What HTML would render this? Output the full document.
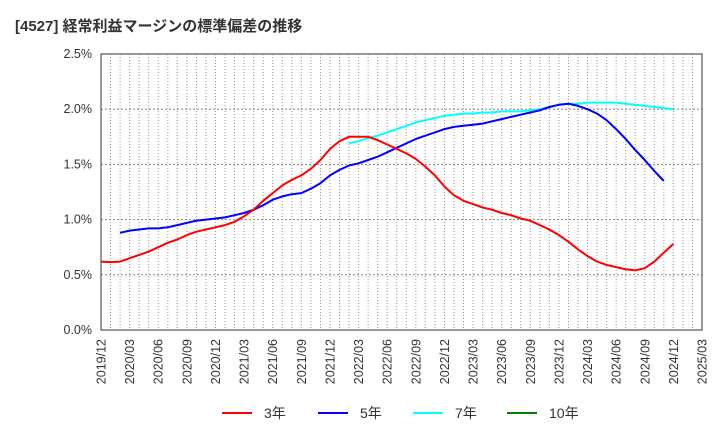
<!DOCTYPE html>
<html><head><meta charset="utf-8"><style>
body{margin:0;background:#fff;font-family:"Liberation Sans","Noto Sans CJK JP",sans-serif;}
svg text{font-family:"Liberation Sans","Noto Sans CJK JP",sans-serif;}
</style></head><body>
<svg id="c" width="720" height="440" xmlns="http://www.w3.org/2000/svg">
<text x="15" y="31" font-size="15" font-weight="bold" fill="#333">[4527]  経常利益マージンの標準偏差の推移</text>
</svg>
<script>
const xLabels=["2019/12","2020/03","2020/06","2020/09","2020/12","2021/03","2021/06","2021/09","2021/12","2022/03","2022/06","2022/09","2022/12","2023/03","2023/06","2023/09","2023/12","2024/03","2024/06","2024/09","2024/12","2025/03"];
const yTicks=[0,0.5,1.0,1.5,2.0,2.5];
const red3=[.62,.615,.62,.65,.68,.71,.75,.79,.82,.86,.89,.91,.93,.95,.98,1.03,1.09,1.17,1.24,1.31,1.36,1.40,1.46,1.54,1.64,1.71,1.75,1.75,1.75,1.72,1.68,1.64,1.60,1.55,1.48,1.40,1.30,1.22,1.17,1.14,1.11,1.09,1.06,1.04,1.01,.99,.95,.91,.86,.80,.73,.67,.62,.59,.57,.55,.54,.56,.62,.70,.78];
const blue5Start=2;
const blue5=[.88,.90,.91,.92,.92,.93,.95,.97,.99,1.00,1.01,1.02,1.04,1.06,1.09,1.13,1.18,1.21,1.23,1.24,1.28,1.33,1.40,1.45,1.49,1.51,1.54,1.57,1.61,1.65,1.69,1.73,1.76,1.79,1.82,1.84,1.85,1.86,1.87,1.89,1.91,1.93,1.95,1.97,1.99,2.02,2.04,2.05,2.03,2.00,1.96,1.90,1.82,1.73,1.63,1.54,1.44,1.35];
const cyan7Start=26;
const cyan7=[1.69,1.71,1.74,1.76,1.79,1.82,1.85,1.88,1.90,1.92,1.94,1.95,1.96,1.96,1.97,1.97,1.98,1.98,1.98,1.99,2.00,2.02,2.04,2.05,2.05,2.06,2.06,2.06,2.06,2.05,2.04,2.03,2.02,2.01,2.00];
const green10=[];
const L=101,R=702,T=54,B=330,NM=63,YMAX=2.5;
const xs=i=>L+(R-L)*i/NM;
const ys=v=>B-(B-T)*v/YMAX;
const svg=document.getElementById('c');
const NS="http://www.w3.org/2000/svg";
function mk(t,a){const e=document.createElementNS(NS,t);for(const k in a)e.setAttribute(k,a[k]);svg.appendChild(e);return e;}
for(let m=1;m<NM;m++){
 const g=mk('line',{x1:xs(m),x2:xs(m),y1:T,y2:B,stroke:'#999','stroke-dasharray':'1,2','stroke-width':1});
 
 
}
yTicks.forEach(v=>{
 if(v>0&&v<YMAX){const g=mk('line',{x1:L,x2:R,y1:ys(v),y2:ys(v),stroke:'#888','stroke-dasharray':'2,2'});
 
 }
 const t=mk('text',{x:92,y:ys(v)+4,'font-size':12.5,'text-anchor':'end',fill:'#333'});
 t.textContent=v.toFixed(1)+'%';
 
 
});
const fr=mk('rect',{x:L,y:T,width:R-L,height:B-T,fill:'none',stroke:'#333','stroke-width':1});


xLabels.forEach((s,q)=>{
 const x=xs(q*3)+4.5;
 const t=mk('text',{x:x,y:339,'font-size':12.5,'text-anchor':'end',fill:'#333',transform:`rotate(-90 ${x} 339)`});
 t.textContent=s;
 
 
});
function series(arr,start,color,name){
 if(!arr.length)return;
 const d=arr.map((v,i)=>(i?'L':'M')+xs(start+i).toFixed(1)+','+ys(v).toFixed(1)).join('');
 const p=mk('path',{d:d,fill:'none',stroke:color,'stroke-width':2,'stroke-linejoin':'round'});
 
 
}
series(cyan7,cyan7Start,'#00ffff','series-7yr');
series(blue5,blue5Start,'#0000ff','series-5yr');
series(red3,0,'#ff0000','series-3yr');
series(green10,0,'#008000','series-10yr');
[["3年","#ff0000",222],["5年","#0000ff",318],["7年","#00ffff",413],["10年","#008000",507]].forEach(([lab,c,x])=>{
 const l=mk('line',{x1:x,x2:x+30,y1:413,y2:413,stroke:c,'stroke-width':2});
 
 
 const t=mk('text',{x:x+42,y:418,'font-size':14,fill:'#333'});
 t.textContent=lab;
 
 
});
</script>
</body></html>
